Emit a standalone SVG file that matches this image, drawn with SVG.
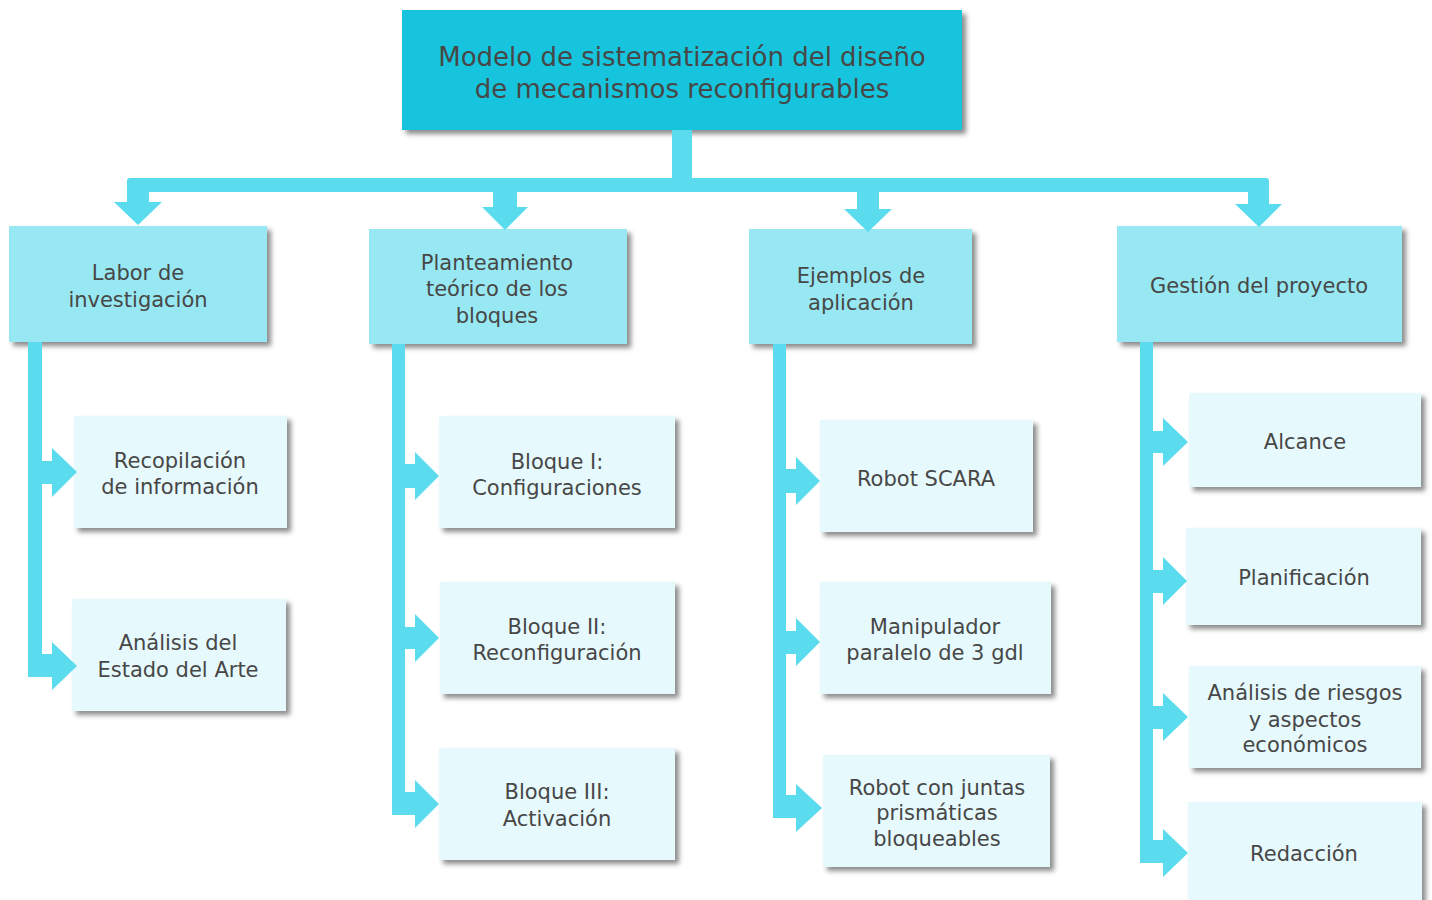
<svg xmlns="http://www.w3.org/2000/svg" width="1432" height="900" viewBox="0 0 1432 900">
  <defs>
    <filter id="shadow" x="-10%" y="-10%" width="125%" height="130%">
      <feDropShadow dx="4" dy="4" stdDeviation="2.5" flood-color="#000" flood-opacity="0.45"/>
    </filter>
  </defs>
  <style>
    .root { fill: #19C5DD; filter: url(#shadow); }
    .lvl2 { fill: #97E8F2; filter: url(#shadow); }
    .lvl3 { fill: #E6F9FD; filter: url(#shadow); }
    .conn { fill: #5BDCEE; }
    text { font-family: "DejaVu Sans", "Liberation Sans", sans-serif; fill: #474747; text-anchor: middle; }
    .t1 { font-size: 26px; }
    .t2 { font-size: 21px; }
    .t3 { font-size: 21px; }
  </style>
  <rect width="1432" height="900" fill="#FFFFFF"/>

  <!-- root -->
  <g id="root">
    <rect class="root" x="402" y="10" width="560" height="120"/>
    <text class="t1" x="682" y="66">Modelo de sistematización del diseño</text>
    <text class="t1" x="682" y="98">de mecanismos reconfigurables</text>
  </g>

  <!-- second level -->
  <g id="labor">
    <rect class="lvl2" x="9" y="226" width="258" height="116"/>
    <text class="t2" x="138" y="280">Labor de</text>
    <text class="t2" x="138" y="307">investigación</text>
  </g>
  <g id="planteamiento">
    <rect class="lvl2" x="369" y="229" width="258" height="115"/>
    <text class="t2" x="497" y="270">Planteamiento</text>
    <text class="t2" x="497" y="296">teórico de los</text>
    <text class="t2" x="497" y="323">bloques</text>
  </g>
  <g id="ejemplos">
    <rect class="lvl2" x="749" y="229" width="223" height="115"/>
    <text class="t2" x="861" y="283">Ejemplos de</text>
    <text class="t2" x="861" y="310">aplicación</text>
  </g>
  <g id="gestion">
    <rect class="lvl2" x="1117" y="226" width="285" height="116"/>
    <text class="t2" x="1259" y="293">Gestión del proyecto</text>
  </g>

  <!-- third level: investigación -->
  <g id="recopilacion">
    <rect class="lvl3" x="74" y="416" width="213" height="112"/>
    <text class="t3" x="180" y="468">Recopilación</text>
    <text class="t3" x="180" y="494">de información</text>
  </g>
  <g id="estado-arte">
    <rect class="lvl3" x="72" y="599" width="214" height="112"/>
    <text class="t3" x="178" y="650">Análisis del</text>
    <text class="t3" x="178" y="677">Estado del Arte</text>
  </g>

  <!-- third level: bloques -->
  <g id="bloque1">
    <rect class="lvl3" x="439" y="416" width="236" height="112"/>
    <text class="t3" x="557" y="469">Bloque I:</text>
    <text class="t3" x="557" y="495">Configuraciones</text>
  </g>
  <g id="bloque2">
    <rect class="lvl3" x="440" y="582" width="235" height="112"/>
    <text class="t3" x="557" y="634">Bloque II:</text>
    <text class="t3" x="557" y="660">Reconfiguración</text>
  </g>
  <g id="bloque3">
    <rect class="lvl3" x="439" y="748" width="236" height="112"/>
    <text class="t3" x="557" y="799">Bloque III:</text>
    <text class="t3" x="557" y="826">Activación</text>
  </g>

  <!-- third level: ejemplos -->
  <g id="scara">
    <rect class="lvl3" x="820" y="420" width="213" height="112"/>
    <text class="t3" x="926" y="486">Robot SCARA</text>
  </g>
  <g id="manipulador">
    <rect class="lvl3" x="820" y="582" width="231" height="112"/>
    <text class="t3" x="935" y="634">Manipulador</text>
    <text class="t3" x="935" y="660">paralelo de 3 gdl</text>
  </g>
  <g id="juntas">
    <rect class="lvl3" x="823" y="755" width="227" height="112"/>
    <text class="t3" x="937" y="795">Robot con juntas</text>
    <text class="t3" x="937" y="820">prismáticas</text>
    <text class="t3" x="937" y="846">bloqueables</text>
  </g>

  <!-- third level: gestión -->
  <g id="alcance">
    <rect class="lvl3" x="1189" y="393" width="232" height="94"/>
    <text class="t3" x="1305" y="449">Alcance</text>
  </g>
  <g id="planificacion">
    <rect class="lvl3" x="1186" y="528" width="235" height="97"/>
    <text class="t3" x="1304" y="585">Planificación</text>
  </g>
  <g id="riesgos">
    <rect class="lvl3" x="1189" y="666" width="232" height="102"/>
    <text class="t3" x="1305" y="700">Análisis de riesgos</text>
    <text class="t3" x="1305" y="727">y aspectos</text>
    <text class="t3" x="1305" y="752">económicos</text>
  </g>
  <g id="redaccion">
    <rect class="lvl3" x="1188" y="802" width="234" height="110"/>
    <text class="t3" x="1304" y="861">Redacción</text>
  </g>

  <!-- connectors: trunk with down arrows, then one branch per column -->
  <g id="connectors">
    <path class="conn" d="M672,130 H692 V178 H1266 Q1269,178 1269,181 V204 H1282 L1259,227 L1235,204 H1248 V192 H879 V209 H892 L868,232 L844,209 H857 V192 H517 V207 H528 L505,230 L482,207 H493 V192 H149 V202 H162 L138,225 L114,202 H127 V181 Q127,178 130,178 H672 Z"/>
    <path class="conn" d="M28,342 H42 V461 H52 V448 L77,472 L52,497 V484 H42 V654 H52 V642 L77,666 L52,690 V677 H28 Z"/>
    <path class="conn" d="M392,344 H405 V464 H415 V452 L439,476 L415,500 V488 H405 V627 H415 V614 L439,638 L415,662 V649 H405 V792 H415 V780 L439,804 L415,828 V815 H392 Z"/>
    <path class="conn" d="M773,344 H786 V469 H796 V457 L820,481 L796,505 V493 H786 V631 H796 V618 L820,642 L796,666 V654 H786 V795 H796 V784 L822,808 L796,832 V818 H773 Z"/>
    <path class="conn" d="M1140,342 H1153 V431 H1163 V418 L1188,442 L1163,466 V453 H1153 V570 H1163 V557 L1187,581 L1163,605 V593 H1153 V706 H1163 V693 L1188,717 L1163,741 V729 H1153 V840 H1163 V829 L1188,853 L1163,877 V863 H1140 Z"/>
  </g>
</svg>
